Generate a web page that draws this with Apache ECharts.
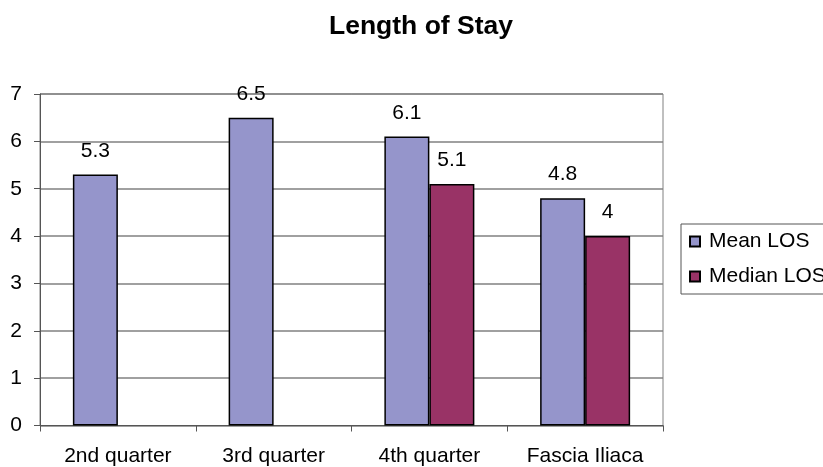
<!DOCTYPE html>
<html>
<head>
<meta charset="utf-8">
<script src="https://cdn.jsdelivr.net/npm/echarts@6/dist/echarts.min.js"></script>
<style>
html,body{margin:0;padding:0;background:#fff;}
#c{width:823px;height:467px;}
</style>
</head>
<body>
<div id="c"></div>
<script>
var categories = ['2nd quarter', '3rd quarter', '4th quarter', 'Fascia Iliaca'];
var meanLOS = [5.3, 6.5, 6.1, 4.8];
var medianLOS = [null, null, 5.1, 4];
var yTicks = [0, 1, 2, 3, 4, 5, 6, 7];

var FONT = '"Liberation Sans", Arial, sans-serif';
var chart = echarts.init(document.getElementById('c'));
var labelStyle = {show: true, position: 'top', distance: 13, color: '#000', fontFamily: FONT, fontSize: 21};
chart.setOption({
  animation: false,
  backgroundColor: '#fff',
  title: {
    text: 'Length of Stay', left: 416, top: 8, textAlign: 'center',
    textStyle: {fontFamily: FONT, fontSize: 26.5, fontWeight: 'bold', color: '#000'}
  },
  legend: {
    left: 681, top: 224, orient: 'vertical',
    itemWidth: 10, itemHeight: 10, itemGap: 14,
    padding: [7, 10, 7, 8],
    borderColor: '#555', borderWidth: 1,
    icon: 'rect',
    textStyle: {fontFamily: FONT, fontSize: 21, color: '#000', padding: [0, 0, 0, 4]},
    data: ['Mean LOS', 'Median LOS']
  },
  grid: {left: 40, right: 160, top: 94, bottom: 41.5, show: true, borderColor: '#808080', borderWidth: 1, backgroundColor: '#fff'},
  xAxis: {
    type: 'category', data: categories,
    axisLine: {lineStyle: {color: '#555', width: 1}},
    axisTick: {show: true, length: 6, lineStyle: {color: '#555'}},
    axisLabel: {fontFamily: FONT, fontSize: 21, color: '#000', margin: 20}
  },
  yAxis: {
    type: 'value', min: 0, max: 7, interval: 1,
    axisLine: {show: true, lineStyle: {color: '#555', width: 1}},
    axisTick: {show: true, length: 6, lineStyle: {color: '#555'}},
    splitLine: {lineStyle: {color: '#808080', width: 1.5}},
    axisLabel: {fontFamily: FONT, fontSize: 21, color: '#000', margin: 18,
      formatter: function (v) { return yTicks.indexOf(v) >= 0 ? String(v) : ''; }}
  },
  series: [
    {
      name: 'Mean LOS', type: 'bar', data: meanLOS, barWidth: 45, barGap: '0%',
      itemStyle: {color: '#9595CB', borderColor: '#000', borderWidth: 1.5},
      label: labelStyle
    },
    {
      name: 'Median LOS', type: 'bar', data: medianLOS, barWidth: 45,
      itemStyle: {color: '#993366', borderColor: '#000', borderWidth: 1.5},
      label: labelStyle
    }
  ]
});
</script>
</body>
</html>
